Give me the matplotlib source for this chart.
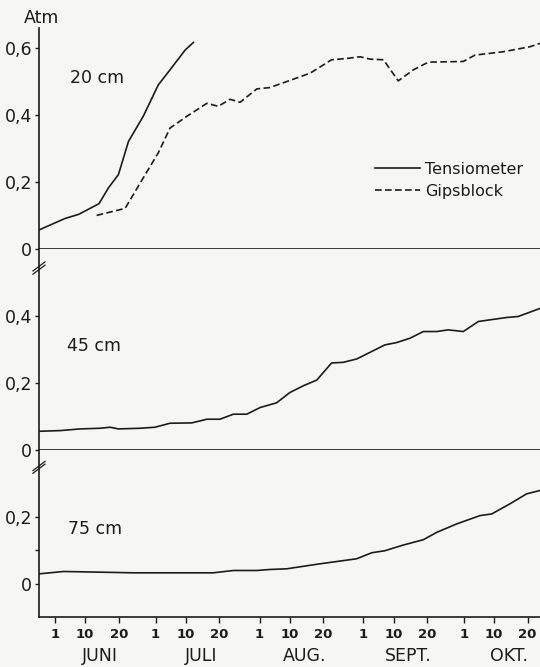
import numpy as np
import matplotlib.pyplot as plt
from matplotlib.lines import Line2D

# x = days counted from 1 June
months = ['JUNI', 'JULI', 'AUG.', 'SEPT.', 'OKT.']
month_start = [0, 30, 61, 92, 122]
day_ticks = [1, 10, 20]

# 20 cm
tens20_day = [-4.7, 3.0, 7.0, 13.1, 15.9, 18.9, 21.9, 26.3, 30.8, 34.3, 38.8, 41.3]
tens20_val = [0.057, 0.091, 0.103, 0.135, 0.182, 0.222, 0.321, 0.396, 0.490, 0.535, 0.594, 0.617]
gips20_day = [12.4, 20.9, 26.3, 30.8, 34.3, 39.3, 45.3, 48.7, 52.2, 55.2, 60.2, 64.1,
              76.1, 82.5, 87.0, 91.0, 94.0, 98.0, 102.4, 106.9, 111.4, 121.8, 125.3,
              133.7, 141.7, 144.7]
gips20_val = [0.100, 0.121, 0.212, 0.287, 0.361, 0.396, 0.435, 0.426, 0.447, 0.438, 0.478, 0.482,
              0.525, 0.565, 0.569, 0.574, 0.567, 0.565, 0.502, 0.535, 0.558, 0.560, 0.579,
              0.589, 0.604, 0.614]

# 45 cm
tens45_day = [-4.7, 1.5, 7.5, 13.4, 16.4, 18.9, 25.4, 29.8, 34.3, 40.8, 45.3, 49.2, 53.2,
              57.2, 61.2, 66.1, 70.1, 74.1, 78.1, 82.5, 86.0, 90.0, 94.0, 98.4, 101.9,
              105.9, 109.9, 113.9, 117.3, 121.8, 126.3, 129.8, 134.8, 138.2, 144.7]
tens45_val = [0.055, 0.057, 0.062, 0.064, 0.067, 0.062, 0.064, 0.067, 0.079, 0.080, 0.091,
              0.091, 0.106, 0.106, 0.126, 0.140, 0.171, 0.191, 0.208, 0.259, 0.261, 0.271,
              0.291, 0.313, 0.320, 0.333, 0.353, 0.353, 0.358, 0.353, 0.383, 0.388, 0.395,
              0.398, 0.422]

# 75 cm
tens75_day = [-4.7, 2.5, 13.4, 23.4, 33.3, 47.2, 53.2, 60.2, 64.1, 69.1, 79.1, 90.0, 94.5,
              98.4, 103.9, 109.9, 113.9, 119.8, 126.8, 130.3, 135.7, 140.7, 144.7]
tens75_val = [0.029, 0.036, 0.034, 0.032, 0.032, 0.032, 0.039, 0.039, 0.042, 0.044, 0.059,
              0.074, 0.092, 0.098, 0.115, 0.131, 0.153, 0.178, 0.203, 0.208, 0.238, 0.268,
              0.278]

bg = '#f6f6f3'
ink = '#1c1c1c'
plt.rcParams['font.family'] = ['DejaVu Sans']
plt.rcParams['text.color'] = ink
plt.rcParams['axes.edgecolor'] = ink
plt.rcParams['xtick.color'] = ink
plt.rcParams['ytick.color'] = ink

fig = plt.figure(figsize=(5.4, 6.67), dpi=100, facecolor=bg)
gs = fig.add_gridspec(3, 1, height_ratios=[0.66, 0.6, 0.5], hspace=0,
                      left=39/540, right=1.0, bottom=50/667, top=639/667)
ax1 = fig.add_subplot(gs[0])
ax2 = fig.add_subplot(gs[1], sharex=ax1)
ax3 = fig.add_subplot(gs[2], sharex=ax1)

ax1.plot(tens20_day, tens20_val, color=ink, lw=1.2)
ax1.plot(gips20_day, gips20_val, color=ink, lw=1.2, dashes=(4, 2))
ax2.plot(tens45_day, tens45_val, color=ink, lw=1.2)
ax3.plot(tens75_day, tens75_val, color=ink, lw=1.2)

ax1.set_ylim(0, 0.66)
ax2.set_ylim(0, 0.6)
ax3.set_ylim(-0.1, 0.4)
ax1.set_xlim(-4.8, 144.7)

ax1.set_yticks([0, 0.2, 0.4, 0.6])
ax2.set_yticks([0, 0.2, 0.4])
ax3.set_yticks([0, 0.2])
ax3.set_yticks([0.1], minor=True)

for ax in (ax1, ax2, ax3):
    ax.set_facecolor(bg)
    ax.spines['top'].set_visible(False)
    ax.spines['right'].set_visible(False)
    ax.spines['left'].set_linewidth(1.2)
    ax.spines['bottom'].set_linewidth(1.2)
    ax.set_yticklabels([('%g' % t).replace('.', ',') for t in ax.get_yticks()])
    ax.tick_params(axis='y', which='both', length=3, width=1, pad=2, labelsize=12.5)

for ax in (ax1, ax2):
    ax.tick_params(axis='x', bottom=False, labelbottom=False)

xt = [s + d - 1 for s in month_start for d in day_ticks]
ax3.set_xticks(xt)
ax3.set_xticklabels([str(d) for s in month_start for d in day_ticks],
                    fontsize=9.5, fontweight='bold')
ax3.tick_params(axis='x', length=4, width=1, pad=4)
for s, m in zip(month_start, months):
    ax3.text(s + 13.5, -0.232, m, transform=ax3.get_xaxis_transform(),
             ha='center', va='center', fontsize=12.5)

# break marks on the y axis
for ax in (ax2, ax3):
    for off in (0.0, 0.016):
        ax.plot([-0.012, 0.012], [0.89 - off, 0.935 - off] if ax is ax2 else [0.875 - off, 0.93 - off],
                transform=ax.transAxes, color=ink, lw=0.9, clip_on=False)

ax1.text(4.5, 0.512, '20 cm', fontsize=12.5, va='center')
ax2.text(3.6, 0.31, '45 cm', fontsize=12.5, va='center')
ax3.text(3.9, 0.164, '75 cm', fontsize=12.5, va='center')

fig.text(42/540, 1 - 18/667, 'Atm', ha='center', va='center', fontsize=12.5)

handles = [Line2D([], [], color=ink, lw=1.2),
           Line2D([], [], color=ink, lw=1.2, dashes=(4, 2))]
ax1.legend(handles, ['Tensiometer', 'Gipsblock'], loc='center left',
           bbox_to_anchor=(0.671, 0.31), frameon=False, fontsize=11.5,
           borderpad=0, borderaxespad=0, handlelength=2.8, handletextpad=0.3,
           labelspacing=0.45)

fig.savefig('out.png', dpi=100, facecolor=bg)
